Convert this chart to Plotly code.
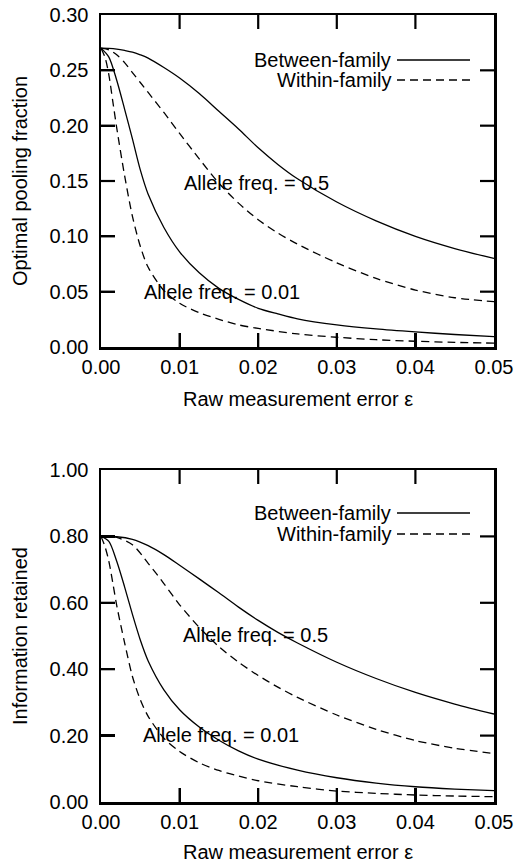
import plotly.graph_objects as go

# ---------------- data ----------------
# Top panel: optimal pooling fraction
eps_top_b05 = [0, 0.001, 0.002, 0.003, 0.004, 0.005, 0.006, 0.008, 0.010, 0.0125, 0.015, 0.0175,
               0.02, 0.0225, 0.025, 0.03, 0.035, 0.04, 0.045, 0.05]
pool_between_p05 = [0.270, 0.2698, 0.2692, 0.268, 0.2665, 0.264, 0.261, 0.2525, 0.243, 0.229, 0.213,
                    0.197, 0.180, 0.165, 0.152, 0.131, 0.114, 0.100, 0.089, 0.080]

eps_top_w05 = [0, 0.001, 0.002, 0.003, 0.004, 0.005, 0.006, 0.008, 0.010, 0.0125, 0.015, 0.0175,
               0.02, 0.0225, 0.025, 0.03, 0.035, 0.04, 0.045, 0.05]
pool_within_p05 = [0.270, 0.2685, 0.264, 0.257, 0.248, 0.239, 0.230, 0.212, 0.193, 0.170, 0.148,
                   0.130, 0.115, 0.103, 0.093, 0.076, 0.062, 0.0515, 0.0445, 0.041]

eps_top_b001 = [0, 0.001, 0.002, 0.003, 0.004, 0.005, 0.006, 0.008, 0.010, 0.0125, 0.015, 0.0175,
                0.02, 0.0225, 0.025, 0.03, 0.035, 0.04, 0.045, 0.05]
pool_between_p001 = [0.270, 0.262, 0.241, 0.215, 0.188, 0.160, 0.138, 0.108, 0.086, 0.067, 0.053,
                     0.043, 0.035, 0.030, 0.0255, 0.0200, 0.0163, 0.0136, 0.0113, 0.0094]

eps_top_w001 = [0, 0.0005, 0.001, 0.0015, 0.002, 0.003, 0.004, 0.005, 0.006, 0.008, 0.010, 0.0125,
                0.015, 0.0175, 0.02, 0.025, 0.03, 0.035, 0.04, 0.045, 0.05]
pool_within_p001 = [0.270, 0.262, 0.246, 0.222, 0.198, 0.155, 0.118, 0.091, 0.072, 0.051, 0.0395,
                    0.031, 0.025, 0.020, 0.0168, 0.0118, 0.0088, 0.0066, 0.0052, 0.0042, 0.0035]

# Bottom panel: information retained
eps_bot_b05 = [0, 0.002, 0.004, 0.006, 0.008, 0.010, 0.0125, 0.015, 0.0175, 0.02, 0.0225, 0.025,
               0.03, 0.035, 0.04, 0.045, 0.05]
info_between_p05 = [0.800, 0.799, 0.791, 0.772, 0.745, 0.713, 0.672, 0.630, 0.587, 0.547, 0.511,
                    0.479, 0.421, 0.372, 0.330, 0.295, 0.265]

eps_bot_w05 = [0, 0.002, 0.004, 0.006, 0.008, 0.010, 0.0125, 0.015, 0.0175, 0.02, 0.0225, 0.025,
               0.03, 0.035, 0.04, 0.045, 0.05]
info_within_p05 = [0.800, 0.797, 0.775, 0.719, 0.658, 0.594, 0.526, 0.468, 0.421, 0.381, 0.346,
                   0.315, 0.262, 0.219, 0.185, 0.162, 0.146]

eps_bot_b001 = [0, 0.001, 0.002, 0.003, 0.004, 0.005, 0.006, 0.008, 0.010, 0.0125, 0.015, 0.0175,
                0.02, 0.025, 0.03, 0.035, 0.04, 0.045, 0.05]
info_between_p001 = [0.800, 0.785, 0.725, 0.648, 0.565, 0.488, 0.425, 0.338, 0.278, 0.226, 0.186,
                     0.154, 0.129, 0.096, 0.073, 0.057, 0.046, 0.039, 0.034]

eps_bot_w001 = [0, 0.0005, 0.001, 0.0015, 0.002, 0.003, 0.004, 0.005, 0.006, 0.008, 0.010, 0.0125,
                0.015, 0.0175, 0.02, 0.025, 0.03, 0.035, 0.04, 0.045, 0.05]
info_within_p001 = [0.800, 0.770, 0.725, 0.660, 0.592, 0.480, 0.378, 0.308, 0.258, 0.192, 0.152,
                    0.118, 0.095, 0.078, 0.064, 0.046, 0.033, 0.026, 0.021, 0.018, 0.016]

x_ticks = [0.00, 0.01, 0.02, 0.03, 0.04, 0.05]
x_ticktext = ["0.00", "0.01", "0.02", "0.03", "0.04", "0.05"]
top_yticks = [0.00, 0.05, 0.10, 0.15, 0.20, 0.25, 0.30]
top_yticktext = ["0.00", "0.05", "0.10", "0.15", "0.20", "0.25", "0.30"]
bot_yticks = [0.00, 0.20, 0.40, 0.60, 0.80, 1.00]
bot_yticktext = ["0.00", "0.20", "0.40", "0.60", "0.80", "1.00"]

x_title = "Raw measurement error ε"
top_ytitle = "Optimal pooling fraction"
bot_ytitle = "Information retained"
legend_labels = ["Between-family", "Within-family"]
label_p05 = "Allele freq. = 0.5"
label_p001 = "Allele freq. = 0.01"

# ---------------- figure ----------------
# body margin is removed by post_script, so the figure fills the whole window
W, H = 514, 863
FONT = "Liberation Sans, Arial, Helvetica, sans-serif"
FS = 20
TICKLEN = 14
PLOT_W = 393.0
PLOT_H = 332.0

def px_x(p):
    return p / W

def px_y(p):
    return 1 - p / H

solid = dict(color="black", width=1.3)
dashed = dict(color="black", width=1.3, dash="8px,5px")

fig = go.Figure()

series = [
    (eps_top_b05, pool_between_p05, solid, "x", "y"),
    (eps_top_w05, pool_within_p05, dashed, "x", "y"),
    (eps_top_b001, pool_between_p001, solid, "x", "y"),
    (eps_top_w001, pool_within_p001, dashed, "x", "y"),
    (eps_bot_b05, info_between_p05, solid, "x2", "y2"),
    (eps_bot_w05, info_within_p05, dashed, "x2", "y2"),
    (eps_bot_b001, info_between_p001, solid, "x2", "y2"),
    (eps_bot_w001, info_within_p001, dashed, "x2", "y2"),
]
for xs, ys, ln, xa, ya in series:
    fig.add_trace(go.Scatter(x=xs, y=ys, mode="lines", line=ln, line_shape="spline",
                             line_smoothing=0.8, xaxis=xa, yaxis=ya, showlegend=False,
                             hoverinfo="skip"))

axis_common = dict(
    showline=True, linecolor="black", linewidth=2.5, mirror=True,
    ticks="inside", ticklen=TICKLEN, tickwidth=2.2, tickcolor="black",
    showgrid=False, zeroline=False, automargin=False, showticklabels=True,
    ticklabeloverflow="allow",
    tickfont=dict(family=FONT, size=FS, color="black"),
)

xdom = [px_x(101), px_x(494)]
fig.update_layout(
    width=W, height=H,
    margin=dict(l=0, r=0, t=0, b=0, pad=0),
    paper_bgcolor="white", plot_bgcolor="white",
    font=dict(family=FONT, size=FS, color="black"),
    showlegend=False,
    xaxis=dict(domain=xdom, anchor="y", range=[0, 0.05], tickvals=x_ticks, ticktext=x_ticktext,
               **axis_common),
    yaxis=dict(domain=[px_y(347), px_y(15)], anchor="x", range=[0, 0.30], tickvals=top_yticks,
               ticktext=top_yticktext, ticklabelstandoff=6, **axis_common),
    xaxis2=dict(domain=xdom, anchor="y2", range=[0, 0.05], tickvals=x_ticks, ticktext=x_ticktext,
                **axis_common),
    yaxis2=dict(domain=[px_y(802), px_y(470)], anchor="x2", range=[0, 1.0], tickvals=bot_yticks,
                ticktext=bot_yticktext, ticklabelstandoff=6, **axis_common),
)

ann = []
# axis titles
ann.append(dict(text=x_title, x=px_x(297.5), y=px_y(399), xref="paper", yref="paper",
                xanchor="center", yanchor="middle", showarrow=False))
ann.append(dict(text=x_title, x=px_x(297.5), y=px_y(852), xref="paper", yref="paper",
                xanchor="center", yanchor="middle", showarrow=False))
ann.append(dict(text=top_ytitle, x=px_x(20), y=px_y(181), xref="paper", yref="paper", textangle=-90,
                xanchor="center", yanchor="middle", showarrow=False))
ann.append(dict(text=bot_ytitle, x=px_x(20), y=px_y(636), xref="paper", yref="paper", textangle=-90,
                xanchor="center", yanchor="middle", showarrow=False))

# curve labels (data coordinates)
ann.append(dict(text=label_p05, x=0.0103, y=0.1486, xref="x", yref="y", xanchor="left", yanchor="middle",
                showarrow=False))
ann.append(dict(text=label_p001, x=0.0052, y=0.0498, xref="x", yref="y", xanchor="left", yanchor="middle",
                showarrow=False))
ann.append(dict(text=label_p05, x=0.0102, y=0.503, xref="x2", yref="y2", xanchor="left", yanchor="middle",
                showarrow=False))
ann.append(dict(text=label_p001, x=0.0051, y=0.202, xref="x2", yref="y2", xanchor="left", yanchor="middle",
                showarrow=False))

shapes = []
# inside tick marks on all four sides, placed through the axes' own scales
tick_line = dict(color="black", width=2.2)
fx = TICKLEN / PLOT_W
fy = TICKLEN / PLOT_H
for xa, ya, yt in [("x", "y", top_yticks), ("x2", "y2", bot_yticks)]:
    for v in x_ticks[1:-1]:
        shapes.append(dict(type="line", xref=xa, yref=ya + " domain", x0=v, x1=v, y0=0, y1=fy,
                           line=tick_line, layer="above"))
        shapes.append(dict(type="line", xref=xa, yref=ya + " domain", x0=v, x1=v, y0=1, y1=1 - fy,
                           line=tick_line, layer="above"))
    for v in yt[1:-1]:
        shapes.append(dict(type="line", xref=xa + " domain", yref=ya, x0=0, x1=fx, y0=v, y1=v,
                           line=tick_line, layer="above"))
        shapes.append(dict(type="line", xref=xa + " domain", yref=ya, x0=1, x1=1 - fx, y0=v, y1=v,
                           line=tick_line, layer="above"))

# legends (text right-aligned, line sample to the right)
for ys in [(60, 80), (513, 534)]:
    for lab, yy, dsh in zip(legend_labels, ys, ["solid", "8px,5px"]):
        ann.append(dict(text=lab, x=px_x(393), y=px_y(yy), xref="paper", yref="paper",
                        xanchor="right", yanchor="middle", showarrow=False))
        shapes.append(dict(type="line", xref="paper", yref="paper", x0=px_x(397), x1=px_x(470),
                           y0=px_y(yy), y1=px_y(yy), line=dict(color="black", width=1.3, dash=dsh)))

fig.update_layout(annotations=ann, shapes=shapes)

fig.write_html("out.html",
               config={"displayModeBar": False, "staticPlot": True},
               post_script="document.body.style.margin='0px';document.body.style.overflow='hidden';")
